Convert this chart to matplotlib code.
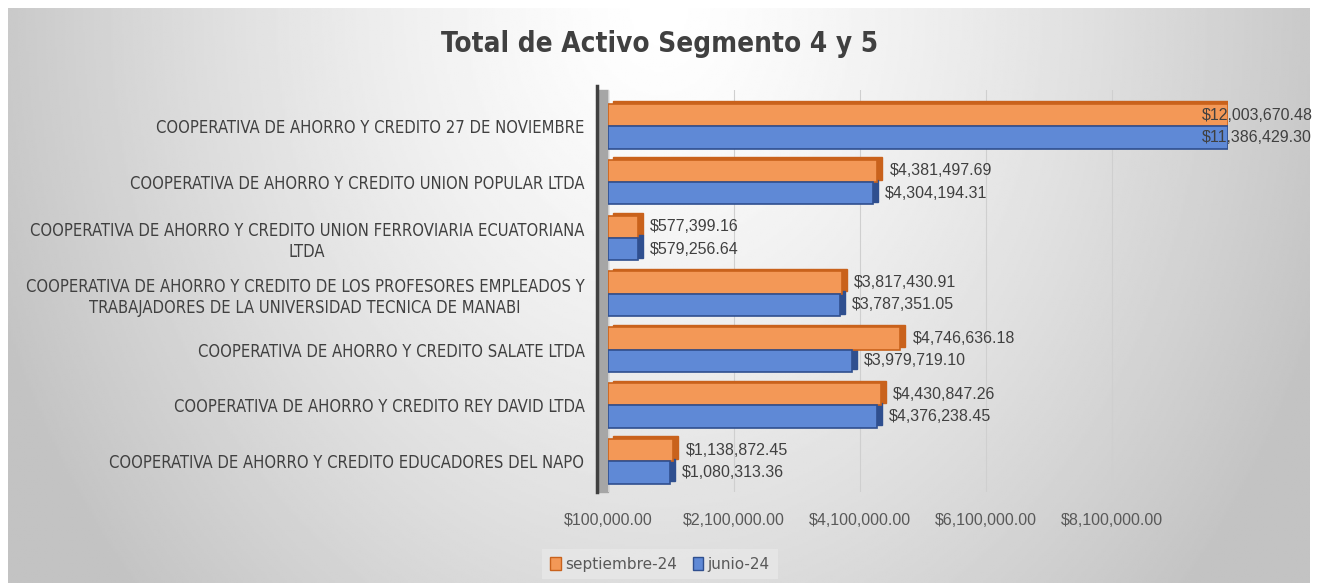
import numpy as np
import matplotlib.pyplot as plt
from matplotlib.transforms import ScaledTranslation
from matplotlib.patches import Rectangle, Patch

# datos
categories = [
    'COOPERATIVA DE AHORRO Y CREDITO 27 DE NOVIEMBRE',
    'COOPERATIVA DE AHORRO Y CREDITO UNION POPULAR LTDA',
    'COOPERATIVA DE AHORRO Y CREDITO UNION FERROVIARIA ECUATORIANA\nLTDA',
    'COOPERATIVA DE AHORRO Y CREDITO DE LOS PROFESORES EMPLEADOS Y\nTRABAJADORES DE LA UNIVERSIDAD TECNICA DE MANABI',
    'COOPERATIVA DE AHORRO Y CREDITO SALATE LTDA',
    'COOPERATIVA DE AHORRO Y CREDITO REY DAVID LTDA',
    'COOPERATIVA DE AHORRO Y CREDITO EDUCADORES DEL NAPO',
]
septiembre = [12003670.48, 4381497.69, 577399.16, 3817430.91, 4746636.18, 4430847.26, 1138872.45]
junio = [11386429.30, 4304194.31, 579256.64, 3787351.05, 3979719.10, 4376238.45, 1080313.36]
xticks = [100000, 2100000, 4100000, 6100000, 8100000]
series_names = ['septiembre-24', 'junio-24']

xmin, xmax = 100000, 9950000
txt = '#404040'
sans = ['Liberation Sans', 'DejaVu Sans']

fig = plt.figure(figsize=(13.17, 5.83), dpi=100)

# fondo con degradado radial
bg = fig.add_axes([8/1317, 0, 1302/1317, 575/583], zorder=-5)
yy, xx = np.mgrid[0:1:300j, 0:1:600j]
r = np.sqrt(((xx - 0.5) / 0.5) ** 2 + (yy / 1.4) ** 2)
shade = 1.0 - 0.21 * np.clip(r, 0, 1.1) ** 1.3
bg.imshow(shade, cmap='gray', vmin=0, vmax=1, aspect='auto', extent=(0, 1, 1, 0))
bg.axis('off')

ax = fig.add_axes([608/1317, 1 - 492/583, (1228-608)/1317, (492-90)/583])
ax.patch.set_alpha(0)

y = np.arange(len(categories))
h = 0.4
depth = ScaledTranslation(5/100, 2.5/100, fig.dpi_scale_trans)

for vals, off, face, dark in [(septiembre, -h/2, '#F39857', '#C9621C'),
                              (junio, h/2, '#5F89D6', '#2F4F8F')]:
    w = np.minimum(vals, xmax) - xmin
    # cara lateral (efecto 3D)
    ax.barh(y + off, w, left=xmin, height=h, color=dark, edgecolor=dark,
            transform=ax.transData + depth, zorder=2)
    ax.barh(y + off, w, left=xmin, height=h, color=face, edgecolor=dark,
            linewidth=1.2, zorder=3)
    for yi, v in zip(y + off, vals):
        if v > xmax:
            ax.annotate(f'${v:,.2f}', (xmax, yi), xytext=(-26, 0), textcoords='offset pixels',
                        va='center', ha='left', fontsize=11.5, color=txt, family=sans,
                        annotation_clip=False, zorder=5)
        else:
            ax.annotate(f'${v:,.2f}', (v, yi), xytext=(12, 0), textcoords='offset pixels',
                        va='center', ha='left', fontsize=11.5, color=txt, family=sans, zorder=5)

ax.set_xlim(xmin, xmax)
ax.set_ylim(len(categories) - 0.45, -0.65)
ax.set_xticks(xticks)
ax.set_xticklabels([f'${t:,.2f}' for t in xticks], fontsize=11.5, color='#595959', family=sans)
ax.set_yticks(y)
ax.set_yticklabels(categories, fontsize=11.9, color=txt, family='DejaVu Sans',
                   fontstretch='condensed', multialignment='center')
ax.tick_params(axis='both', length=0)
ax.tick_params(axis='x', pad=15)
ax.tick_params(axis='y', pad=17)
ax.grid(axis='x', color='#cfcfcf', linewidth=0.8, zorder=0)
for s in ax.spines.values():
    s.set_visible(False)

# pared izquierda 3D
ax.add_patch(Rectangle((-0.017, 0), 0.017, 1, transform=ax.transAxes, color='#a6a6a6',
                       clip_on=False, zorder=1))
ax.plot([-0.017, -0.017], [0, 1.01], transform=ax.transAxes, color='#404040', lw=2.5,
        clip_on=False, zorder=4)

fig.text(660/1317, 1 - 44/583, 'Total de Activo Segmento 4 y 5', ha='center', va='center',
         fontsize=20, fontweight='bold', color=txt, family='DejaVu Sans', fontstretch='condensed')

handles = [Patch(facecolor='#F39857', edgecolor='#C9621C'),
           Patch(facecolor='#5F89D6', edgecolor='#2F4F8F')]
leg = fig.legend(handles, series_names, loc='center', bbox_to_anchor=(660/1317, 1 - 564/583),
                 ncol=2, fontsize=11, frameon=True, facecolor='#e8e8e8', edgecolor='none',
                 handlelength=0.7, handleheight=0.9, handletextpad=0.3, columnspacing=1.0,
                 borderpad=0.5, fancybox=False)
for t in leg.get_texts():
    t.set_color('#595959')

fig.savefig('out.png', dpi=100, facecolor='white')
